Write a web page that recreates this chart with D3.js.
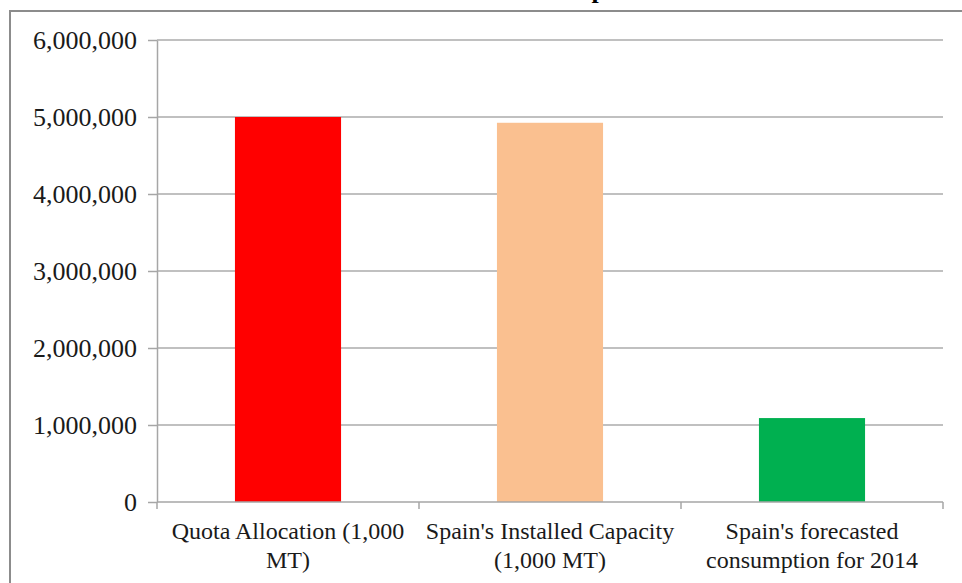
<!DOCTYPE html>
<html>
<head>
<meta charset="utf-8">
<script src="https://cdn.jsdelivr.net/npm/d3@7"></script>
<style>
  body { margin: 0; background: #fff; }
  svg { display: block; font-family: "Liberation Serif", "Times New Roman", serif; }
</style>
</head>
<body>
<svg id="chart" width="962" height="583"></svg>
<script>
// data
var categories = ["Quota Allocation (1,000 MT)", "Spain's Installed Capacity (1,000 MT)", "Spain's forecasted consumption for 2014"];
var values = [5000000, 4925000, 1090000];
var barColors = ["#ff0000", "#fac090", "#00b050"];
var yTicks = [0, 1000000, 2000000, 3000000, 4000000, 5000000, 6000000];

var svg = d3.select("#chart");

// outer frame (chart area border, cut by the picture edges)
svg.append("rect")
    .attr("x", 10).attr("y", 11)
    .attr("width", 980).attr("height", 600)
    .attr("fill", "none")
    .attr("stroke", "#8c8c8c")
    .attr("stroke-width", 2);

// title, mostly outside the picture: only the descender shows
svg.append("text")
    .attr("x", 577).attr("y", -2)
    .attr("font-size", 26)
    .attr("font-weight", "bold")
    .text("Spain");

var plotL = 157, plotR = 943, plotT = 40, plotB = 502;

var y = d3.scaleLinear().domain([0, 6000000]).range([plotB, plotT]);
var x = d3.scaleBand()
    .domain(categories)
    .range([plotL, plotR])
    .paddingInner(0.595)
    .paddingOuter(0.2975);

// gridlines
svg.append("g").selectAll("line.grid")
    .data(yTicks.filter(d => d > 0))
    .enter()
    .append("line")
        .attr("class", "grid")
        .attr("x1", plotL).attr("x2", plotR)
        .attr("y1", d => y(d)).attr("y2", d => y(d))
        .attr("stroke", "#ababab")
        .attr("stroke-width", 1.5);

// bars
svg.append("g").selectAll("rect.bar")
    .data(values)
    .enter()
    .append("rect")
        .attr("class", "bar")
        .attr("x", (d, i) => x(categories[i]))
        .attr("width", x.bandwidth())
        .attr("y", d => y(d))
        .attr("height", d => y(0) - y(d))
        .attr("fill", (d, i) => barColors[i]);

// y axis
var yAxis = svg.append("g")
    .attr("transform", "translate(" + plotL + ",0)")
    .call(d3.axisLeft(y).tickValues(yTicks).tickFormat(d3.format(",")).tickSize(9).tickSizeOuter(0).tickPadding(11));
yAxis.select(".domain").attr("stroke", "#a6a6a6").attr("stroke-width", 1.5);
yAxis.selectAll(".tick line").attr("stroke", "#a6a6a6").attr("stroke-width", 1.5);
yAxis.selectAll(".tick text")
    .attr("font-family", "Liberation Serif")
    .attr("font-size", 26)
    .attr("fill", "#1a1a1a");

// x axis: line plus ticks between categories
var xAxis = svg.append("g");
xAxis.append("line")
    .attr("x1", plotL).attr("x2", plotR)
    .attr("y1", plotB).attr("y2", plotB)
    .attr("stroke", "#a6a6a6").attr("stroke-width", 1.5);
var bounds = d3.range(categories.length + 1).map(i => plotL + i * x.step());
xAxis.selectAll("line.xt")
    .data(bounds)
    .enter()
    .append("line")
        .attr("class", "xt")
        .attr("x1", d => d).attr("x2", d => d)
        .attr("y1", plotB).attr("y2", plotB + 7)
        .attr("stroke", "#a6a6a6").attr("stroke-width", 1.5);

// category labels, wrapped to the category width
function wrapWords(text, maxW, size) {
    var probe = svg.append("text").attr("font-size", size).attr("font-family", "Liberation Serif");
    var words = text.split(" "), lines = [], cur = "";
    words.forEach(w => {
        var t = cur ? cur + " " + w : w;
        probe.text(t);
        if (probe.node().getComputedTextLength() > maxW && cur) {
            lines.push(cur);
            cur = w;
        } else {
            cur = t;
        }
    });
    lines.push(cur);
    probe.remove();
    return lines;
}

categories.forEach((c, i) => {
    var lines = wrapWords(c, 255, 24);
    var t = svg.append("text")
        .attr("text-anchor", "middle")
        .attr("font-size", 24)
        .attr("fill", "#1a1a1a");
    lines.forEach((l, j) => {
        t.append("tspan")
            .attr("x", x(c) + x.bandwidth() / 2)
            .attr("y", 539 + j * 29)
            .text(l);
    });
});
</script>
</body>
</html>
